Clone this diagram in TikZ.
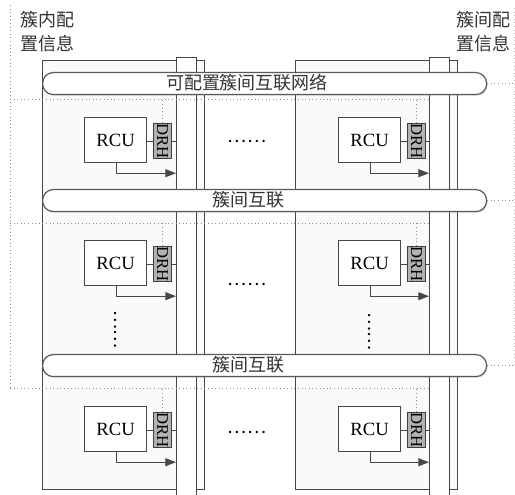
\documentclass[tikz,border=0pt]{standalone}
\usepackage{fontspec}
\setmainfont{Liberation Serif}
\newfontfamily\cjk{Noto Sans CJK SC}
\usetikzlibrary{arrows.meta,shadows}
\begin{document}
\begin{tikzpicture}[x=0.75pt,y=-0.75pt,
  frame/.style={draw=black!72, line width=0.9pt},
  cluster/.style={frame, fill=black!2, anchor=north west, minimum width=121.5pt, minimum height=321.75pt, inner sep=0pt},
  bar/.style={frame, fill=white, anchor=north west, minimum width=15pt, minimum height=336pt, inner sep=0pt},
  pill/.style={draw=black!65, line width=0.9pt, rounded corners=8pt, fill=white, anchor=north west,
     minimum width=333pt, minimum height=16.5pt, inner sep=0pt,
     drop shadow={opacity=0.25, shadow xshift=0.8pt, shadow yshift=-0.8pt}},
  rcu/.style={frame, fill=white, anchor=north west, minimum width=46.5pt, minimum height=33.75pt, inner sep=0pt, font=\fontsize{14}{15}\selectfont},
  drh/.style={draw=black!75, line width=0.8pt, fill=black!30, anchor=north west, minimum width=13.5pt, minimum height=25.5pt, inner sep=0pt, font=\fontsize{12.5}{13}\selectfont},
  link/.style={draw=black!72, line width=0.8pt},
  arr/.style={link, -{Triangle[length=8pt,width=6pt]}},
  dotline/.style={draw=black!45, dotted, line width=0.7pt},
  cjklabel/.style={font=\cjk\fontsize{13.5}{18}\selectfont, text=black!80, inner sep=0pt},
  dots/.style={font=\cjk\fontsize{13.5}{13.5}\selectfont, inner sep=0pt}
]
\useasboundingbox[fill=white] (0,0) rectangle (515,495);

% clusters and bars
\node[cluster] (cL) at (42,60) {};
\node[cluster] (cR) at (295,60) {};
\node[bar] (bL) at (176,57) {};
\node[bar] (bR) at (429,57) {};

% reference coordinates for dotted lines
\coordinate (lt) at (10,5);
\coordinate (h1) at (10,99);
\coordinate (h2) at (10,223);
\coordinate (h3) at (10,388);
\coordinate (rx) at (514,8);

% cells
\foreach \nm/\x/\y in {a/84/117, b/338/117, c/84/240, d/338/240, e/84/406, f/338/406}{
  \node[rcu] (r\nm) at (\x,\y) {RCU};
  \node[drh] (d\nm) at (\x+69,\y+6) {\rotatebox{-90}{DRH}};
  \draw[link] (r\nm.east |- d\nm.west) -- (d\nm.west);
}
\foreach \nm/\b in {a/bL, c/bL, e/bL, b/bR, d/bR, f/bR}{
  \draw[link] (d\nm.east) -- (d\nm.east -| \b.west);
  \draw[arr] ([xshift=24.5pt]r\nm.south west) |- ([yshift=-7.5pt]r\nm.south -| \b.west);
}

% intra-cluster config dotted lines
\draw[dotline] (lt) -- (h3);
\draw[dotline] (h1) -- (h1 -| bR.west);
\draw[dotline] (h2) -- (h2 -| bR.west);
\draw[dotline] (h3) -- (h3 -| bR.west);
\draw[dotline] (da.north) -- (da.north |- h1);
\draw[dotline] (db.north) -- (db.north |- h1);
\draw[dotline] (dc.north) -- (dc.north |- h2);
\draw[dotline] (dd.north) -- (dd.north |- h2);
\draw[dotline] (de.north) -- (de.north |- h3);
\draw[dotline] (df.north) -- (df.north |- h3);

% pills
\node[pill] (p1) at (42,72) {};
\node[pill] (p2) at (42,189) {};
\node[pill] (p3) at (42,354) {};
\node[cjklabel] (t1) at (247,83) {可配置簇间互联网络};
\node[cjklabel] (t2) at (248,200) {簇间互联};
\node[cjklabel] (t3) at (248,365) {簇间互联};

% inter-cluster config dotted lines
\draw[dotline, draw=black!25] (rx) -- (rx |- p3.east);
\draw[dotline] (p1.east) -- (p1.east -| rx);
\draw[dotline] (p2.east) -- (p2.east -| rx);
\draw[dotline] (p3.east) -- (p3.east -| rx);

% labels
\node[cjklabel, align=left, anchor=north west] (lab1) at (20,11) {簇内配\\置信息};
\node[cjklabel, align=left, anchor=north west] (lab2) at (456,11) {簇间配\\置信息};

% ellipses
\node[dots] (e1) at (247,141) {……};
\node[dots] (e2) at (247,284) {……};
\node[dots] (e3) at (247,432) {……};
\node[dots, rotate=-90] (v1) at (116,330) {……};
\node[dots, rotate=-90] (v2) at (370,332) {……};
\end{tikzpicture}
\end{document}
